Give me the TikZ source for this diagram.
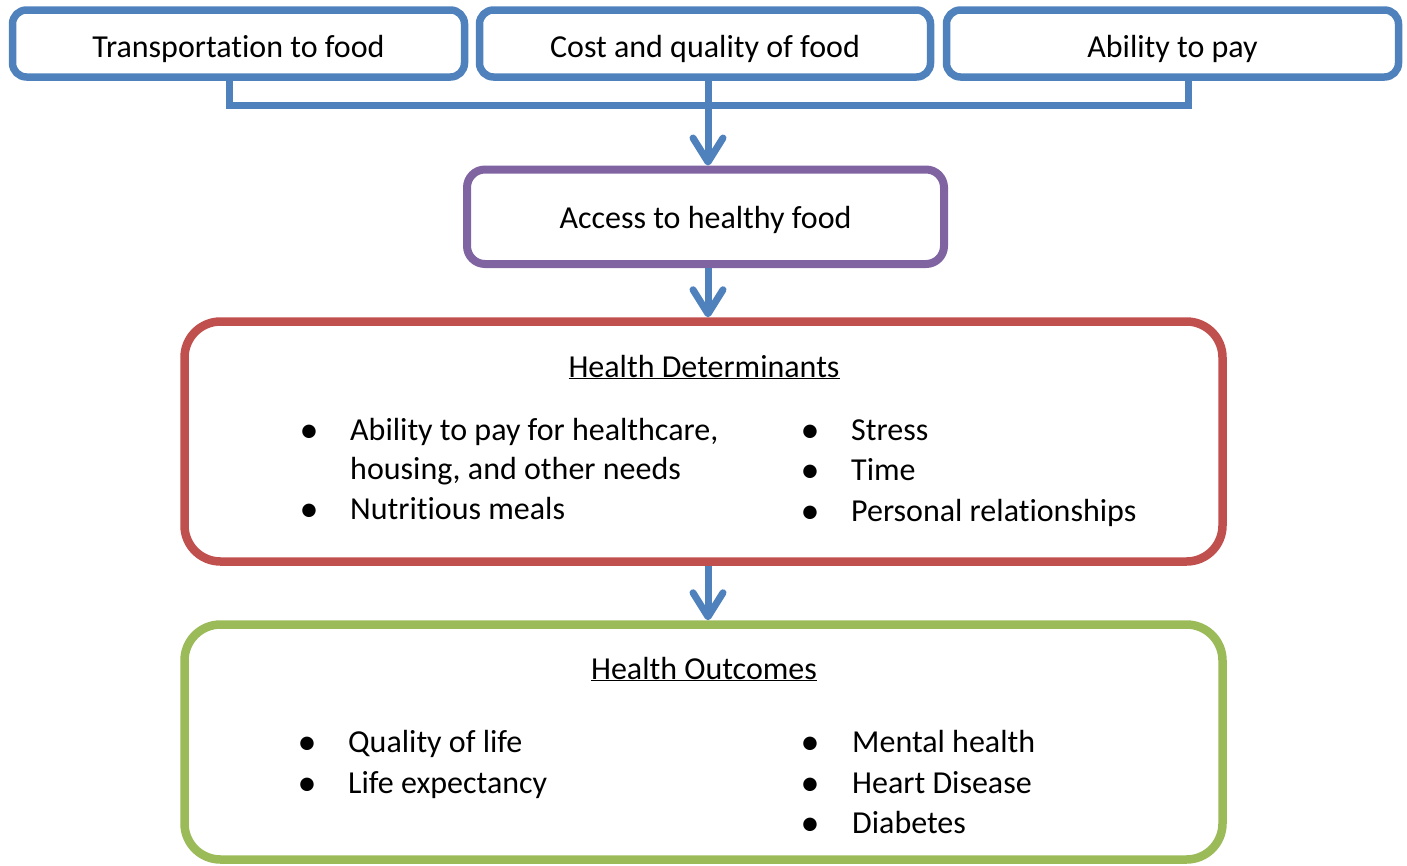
\documentclass[tikz,border=0pt]{standalone}
\usepackage{fontspec}
\setmainfont{Carlito}[Ligatures=NoCommon]
\usetikzlibrary{arrows.meta}
\definecolor{oblue}{HTML}{4F81BD}
\definecolor{opurple}{HTML}{8064A2}
\definecolor{ored}{HTML}{C0504D}
\definecolor{ogreen}{HTML}{9BBB59}
\tikzset{
  topbox/.style={draw=oblue, line width=7.5pt, rounded corners=14pt, rectangle, minimum width=452pt, minimum height=67pt, inner sep=0pt},
  bigbox/.style={line width=8.5pt, rounded corners=36pt, rectangle, minimum width=1038pt, inner sep=0pt},
  conn/.style={draw=oblue, line width=7pt},
  arr/.style={conn, -{Straight Barb[length=24pt,width=30pt,round]}},
  txt/.style={anchor=base, inner sep=0pt, font=\fontsize{32}{39}\selectfont},
  ltxt/.style={anchor=base west, inner sep=0pt, font=\fontsize{32}{39}\selectfont},
  bul/.style={anchor=base, inner sep=0pt, yshift=-2pt, font=\fontsize{38}{38}\selectfont},
}
\begin{document}
\begin{tikzpicture}[x=1pt,y=-1pt]
\useasboundingbox (0,0) rectangle (1407,865);
% top boxes
\node[topbox] (t1) at (238.5,43.5) {};
\node[topbox, minimum width=451pt] (t2) at (705,43.5) {};
\node[topbox] (t3) at (1172.5,43.5) {};
\node[txt] (t1l) at (238.5,57) {Transportation to food};
\node[txt] (t2l) at (705,57) {Cost and quality of food};
\node[txt] (t3l) at (1172.5,57) {Ability to pay};
% access box
\node[draw=opurple, line width=8pt, rounded corners=18pt, rectangle, minimum width=477pt, minimum height=94.5pt, inner sep=0pt] (acc) at (705.5,216.75) {};
\node[txt] (accl) at (705.5,228) {Access to healthy food};
% big boxes
\node[bigbox, draw=ored, minimum height=240pt] (hd) at (703.5,441.5) {};
\node[bigbox, draw=ogreen, minimum height=235pt] (ho) at (703.5,742) {};
% connectors
\coordinate (ax) at (708,0);
\coordinate (b1) at (229,105);
\coordinate (b3) at (1188,105);
\draw[conn] (t1.south -| b1) -- (b1) -- (b3) -- (t3.south -| b3);
\draw[arr] (t2.south -| ax) -- (acc.north -| ax);
\draw[arr] (acc.south -| ax) -- (hd.north -| ax);
\draw[arr] (hd.south -| ax) -- (ho.north -| ax);
% health determinants
\node[txt] (hdt) at (704,377) {\underline{Health Determinants}};
\node[bul] (hb1) at (309,440) {•};
\node[ltxt] (hl1) at (350,440) {Ability to pay for healthcare,};
\node[ltxt] (hl1b) at (350,479) {housing, and other needs};
\node[bul] (hb2) at (309,519) {•};
\node[ltxt] (hl2) at (350,519) {Nutritious meals};
\node[bul] (hb3) at (810,440) {•};
\node[ltxt] (hl3) at (851,440) {Stress};
\node[bul] (hb4) at (810,480) {•};
\node[ltxt] (hl4) at (851,480) {Time};
\node[bul] (hb5) at (810,521) {•};
\node[ltxt] (hl5) at (851,521) {Personal relationships};
% health outcomes
\node[txt] (hot) at (704,679) {\underline{Health Outcomes}};
\node[bul] (ob1) at (307,752) {•};
\node[ltxt] (ol1) at (348,752) {Quality of life};
\node[bul] (ob2) at (307,793) {•};
\node[ltxt] (ol2) at (348,793) {Life expectancy};
\node[bul] (ob3) at (810,752) {•};
\node[ltxt] (ol3) at (852,752) {Mental health};
\node[bul] (ob4) at (810,793) {•};
\node[ltxt] (ol4) at (852,793) {Heart Disease};
\node[bul] (ob5) at (810,833) {•};
\node[ltxt] (ol5) at (852,833) {Diabetes};
\end{tikzpicture}
\end{document}
